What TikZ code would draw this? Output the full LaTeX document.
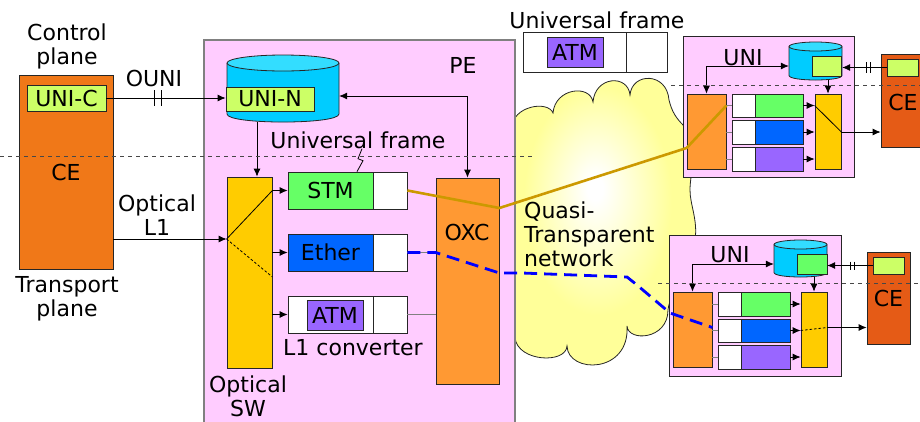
\documentclass[tikz,border=0pt]{standalone}
\usepackage{fontspec}
\setmainfont{DejaVu Sans}
\usetikzlibrary{arrows.meta,calc}
\definecolor{edge}{HTML}{262626}
\definecolor{pegray}{HTML}{808080}
\definecolor{pepink}{HTML}{FFCCFF}
\definecolor{celeft}{HTML}{F07818}
\definecolor{ceright}{HTML}{E55B16}
\definecolor{lime}{HTML}{CCFF66}
\definecolor{cylbody}{HTML}{00CCFF}
\definecolor{cyltop}{HTML}{33DDFF}
\definecolor{swyellow}{HTML}{FFCC00}
\definecolor{oxcorange}{HTML}{FF9933}
\definecolor{cgreen}{HTML}{66FF66}
\definecolor{cblue}{HTML}{0066FF}
\definecolor{cpurple}{HTML}{9966FF}
\definecolor{gold}{HTML}{CC9900}
\definecolor{dblue}{HTML}{0000FF}
\definecolor{cloudy}{HTML}{FFFF99}
\pgfdeclareradialshading{cloudsh}{\pgfpoint{-2bp}{6bp}}{color(0bp)=(white); color(2bp)=(white); color(19bp)=(cloudy); color(50bp)=(cloudy)}
\begin{document}
\begin{tikzpicture}[x=1pt,y=-1pt,
  font=\fontsize{22}{24}\selectfont,
  bx/.style={draw=edge, line width=0.8pt, inner sep=0pt},
  sz/.style 2 args={minimum width=#1pt, minimum height=#2pt},
  lbl/.style={inner sep=0pt},
  arr/.style={draw=black, line width=0.8pt, -{Latex[length=8pt,width=7pt]}},
  arrb/.style={draw=black, line width=0.8pt, {Latex[length=8pt,width=7pt]}-{Latex[length=8pt,width=7pt]}},
  stub/.style={draw=pegray, line width=1pt},
  thin/.style={draw=black, line width=0.8pt},
  plane/.style={draw=edge!85, line width=0.7pt, dash pattern=on 4pt off 4pt},
]
\useasboundingbox (0,0) rectangle (920,421);
\clip (0,0) rectangle (920,421);

% cloud
\path[draw=edge, line width=0.8pt, shading=cloudsh]
 (512,128) .. controls (512,106) and (548,100) .. (553,113)
 .. controls (555,88) and (590,84) .. (593,102)
 .. controls (595,76) and (628,74) .. (630,95)
 .. controls (632,72) and (667,72) .. (669,100)
 .. controls (672,112) and (676,118) .. (684,126)
 .. controls (700,150) and (690,170) .. (690,190)
 .. controls (690,205) and (698,220) .. (695,240)
 .. controls (692,270) and (670,290) .. (668,310)
 .. controls (668,340) and (628,342) .. (627,326)
 .. controls (630,374) and (568,374) .. (567,346)
 .. controls (566,364) and (518,362) .. (515,338)
 .. controls (505,300) and (505,160) .. (512,128) -- cycle;

% left CE
\node[bx, fill=celeft, sz={94}{194}] (ceL) at (66,172) {CE};
\node[bx, fill=lime, sz={79}{26}] (uniC) at (66.5,98) {UNI-C};
\node[lbl, align=center] (cpl) at (67,46) {Control\\plane};
\node[lbl, align=center] (tpl) at (67,299) {Transport\\plane};
\node[lbl] (ouni) at (154,78) {OUNI};
\node[lbl, align=center] (ol1) at (157,215) {Optical\\L1};

% PE
\node[draw=pegray, line width=1.2pt, fill=pepink, sz={311}{400}] (pe) at (359.5,240) {};
\node[lbl] (pel) at (463,65) {PE};

% UNI-N cylinder
\fill[cylbody] (227,63) -- (227,114) .. controls (227,124.7) and (339,124.7) .. (339,114) -- (339,63) -- cycle;
\draw[draw=edge, line width=0.8pt] (227,63) -- (227,114) .. controls (227,124.7) and (339,124.7) .. (339,114) -- (339,63);
\filldraw[fill=cyltop, draw=edge, line width=0.8pt] (283,63) ellipse [x radius=56pt, y radius=8pt];
\node[inner sep=0pt, sz={112}{67}] (cylN) at (283,88.5) {};
\node[bx, fill=lime, sz={88}{24}] (uniN) at (270,99) {UNI-N};

% optical SW
\node[bx, fill=swyellow, sz={45}{191}] (osw) at (249.5,272.5) {};
\node[lbl, align=center] (oswl) at (248,396) {Optical\\SW};

% converters
\node[bx, fill=cgreen, sz={85}{37}] (stm) at (330.5,190.5) {STM};
\node[bx, fill=white, sz={34}{37}] (stmw) at (390,190.5) {};
\node[bx, fill=cblue, sz={85}{37}] (eth) at (330.5,252.5) {Ether};
\node[bx, fill=white, sz={34}{37}] (ethw) at (390,252.5) {};
\node[bx, fill=white, sz={85}{37}] (atmc) at (330.5,314.5) {};
\node[bx, fill=white, sz={34}{37}] (atmw) at (390,314.5) {};
\node[bx, fill=cpurple, sz={56}{30}] (atm) at (335,315) {ATM};
\node[lbl] (l1c) at (353,348) {L1 converter};
\node[lbl] (ufl) at (358,140) {Universal frame};

% OXC
\node[bx, fill=oxcorange, sz={63}{206}] (oxc) at (467.5,281) {};
\node[lbl] (oxcl) at (467,232) {OXC};

% PE connectors
\draw[arr] (uniC.east) -- (uniC.east -| uniN.west)
  coordinate[pos=0.43] (b1);
\draw[thin] ([xshift=-3.5pt,yshift=8pt]b1) -- ([xshift=-3.5pt,yshift=-8pt]b1);
\draw[thin] ([xshift=3.5pt,yshift=8pt]b1) -- ([xshift=3.5pt,yshift=-8pt]b1);
\draw[arr] ([xshift=7.5pt]osw.north |- cylN.south) -- ([xshift=7.5pt]osw.north);
\draw[arrb] (oxc.north) |- ($(cylN.east |- uniN.east)+(0,-3)$);
\coordinate (swin) at ($(osw.west)+(0,-33.5)$);
\draw[arr] (ceL.east |- swin) -- (swin);
\draw[thin] (swin) -- (osw.east |- stm.west);
\draw[thin, dash pattern=on 2.5pt off 2pt] (swin) -- ($(osw.east)+(0,4.5)$);
\draw[arr] (osw.east |- stm.west) -- (stm.west);
\draw[arr] (osw.east |- eth.west) -- (eth.west);
\draw[arr] (osw.east |- atmc.west) -- (atmc.west);
\draw[stub] (atmw.east) -- (oxc.west |- atmw.east);
\draw[stub] (ethw.east) -- (oxc.west |- ethw.east);
\draw[thin] ([xshift=4pt]ufl.south) -- ++(-4,10) -- ++(5,2) -- ([xshift=26.5pt]stm.north);

% universal frame (top)
\node[lbl] (uft) at (597,20) {Universal frame};
\node[bx, fill=white, sz={103}{40}] (uf) at (574.5,52) {};
\node[bx, fill=white, sz={41}{40}] (ufw) at (646.5,52) {};
\node[bx, fill=cpurple, sz={56}{30}] (ufatm) at (575,52) {ATM};

% upper right
\node[bx, fill=pepink, sz={171}{141}] (ur) at (768.5,106.5) {};
\node[bx, fill=oxcorange, sz={39}{75}] (urO) at (706.5,131.5) {};
\node[bx, fill=swyellow, sz={26}{75}] (urY) at (828,131.5) {};
\foreach \n/\y/\h/\c in {1/105.5/23/cgreen, 2/132/24/cblue, 3/159/24/cpurple} {
  \node[bx, fill=white, sz={23}{\h}] (urw\n) at (743.5,\y) {};
  \node[bx, fill=\c, sz={48}{\h}] (urc\n) at (779,\y) {};
  \draw[stub] (urO.east |- urw\n) -- (urw\n.west);
  \draw[arr] (urc\n.east) -- (urY.west |- urc\n);
}
\fill[cylbody] (789,46.5) -- (789,75.5) .. controls (789,81.5) and (842,81.5) .. (842,75.5) -- (842,46.5) -- cycle;
\draw[draw=edge, line width=0.8pt] (789,46.5) -- (789,75.5) .. controls (789,81.5) and (842,81.5) .. (842,75.5) -- (842,46.5);
\filldraw[fill=cyltop, draw=edge, line width=0.8pt] (815.5,46.5) ellipse [x radius=26.5pt, y radius=4.5pt];
\node[inner sep=0pt, sz={53}{38}] (urCyl) at (815.5,61) {};
\node[bx, fill=lime, sz={29}{20}] (urLime) at (826.5,66) {};
\node[lbl] (urUNI) at (743,58) {UNI};
\node[bx, fill=ceright, sz={54}{93}] (urCE) at (908,100.5) {};
\node[lbl] (urCEl) at (903,102) {CE};
\node[bx, fill=lime, sz={31}{17}] (urCElime) at (902.5,67.5) {};
\draw[arrb] (urCyl.west |- urLime) -| (urO.north);
\draw[arr] (urCyl.south -| urY.north) -- (urY.north);
\draw[arr] (urCElime.west) -- (urCElime.west -| urCyl.east) coordinate[pos=0.42] (b2);
\draw[thin] ([xshift=-2pt,yshift=5.5pt]b2) -- ([xshift=-2pt,yshift=-5.5pt]b2);
\draw[thin] ([xshift=2pt,yshift=5.5pt]b2) -- ([xshift=2pt,yshift=-5.5pt]b2);
\draw[thin] (urY.west |- urc1) -- (urY.east |- urc2);
\draw[arr] (urY.east |- urc2) -- (urCE.west |- urc2);

% lower right
\node[bx, fill=pepink, sz={172}{141}] (lr) at (755,305.5) {};
\node[bx, fill=oxcorange, sz={39}{75}] (lrO) at (692.5,329.5) {};
\node[bx, fill=swyellow, sz={26}{75}] (lrY) at (814,329.5) {};
\foreach \n/\y/\h/\c in {1/304/24/cgreen, 2/330.5/23/cblue, 3/357/24/cpurple} {
  \node[bx, fill=white, sz={23}{\h}] (lrw\n) at (729.5,\y) {};
  \node[bx, fill=\c, sz={49}{\h}] (lrc\n) at (765.5,\y) {};
  \draw[stub] (lrO.east |- lrw\n) -- (lrw\n.west);
  \draw[arr] (lrc\n.east) -- (lrY.west |- lrc\n);
}
\fill[cylbody] (774,244.5) -- (774,272.5) .. controls (774,278.5) and (827,278.5) .. (827,272.5) -- (827,244.5) -- cycle;
\draw[draw=edge, line width=0.8pt] (774,244.5) -- (774,272.5) .. controls (774,278.5) and (827,278.5) .. (827,272.5) -- (827,244.5);
\filldraw[fill=cyltop, draw=edge, line width=0.8pt] (800.5,244.5) ellipse [x radius=26.5pt, y radius=4.5pt];
\node[inner sep=0pt, sz={53}{37}] (lrCyl) at (800.5,258.5) {};
\node[bx, fill=cgreen, sz={30}{20}] (lrGreen) at (812,264) {};
\node[lbl] (lrUNI) at (730,255) {UNI};
\node[bx, fill=ceright, sz={43}{92}] (lrCE) at (888.5,298) {CE};
\node[bx, fill=lime, sz={31}{17}] (lrCElime) at (888.5,265.5) {};
\draw[arrb] (lrCyl.west |- lrGreen) -| (lrO.north);
\draw[arr] (lrCyl.south -| lrY.north) -- (lrY.north);
\draw[arr] (lrCElime.west) -- (lrCElime.west -| lrCyl.east) coordinate[pos=0.45] (b3);
\draw[thin] ([xshift=-1.8pt,yshift=4pt]b3) -- ([xshift=-1.8pt,yshift=-4pt]b3);
\draw[thin] ([xshift=1.8pt,yshift=4pt]b3) -- ([xshift=1.8pt,yshift=-4pt]b3);
\coordinate (lrout) at ($(lrY.east |- lrc2)+(0,-3)$);
\draw[thin, dash pattern=on 2.5pt off 2pt] (lrY.west |- lrc2) -- (lrout);
\draw[arr] (lrout) -- (lrCE.west |- lrout);

% cloud label
\node[lbl, align=left, anchor=west] (qtn) at (524,234) {Quasi-\\Transparent\\network};

% plane separators
\draw[plane] (0,156) -- (532,156);
\draw[plane] (671,85) -- (920,85);
\draw[plane] (658,283) -- (920,283);

% paths through network
\draw[gold, line width=2.6pt] (stmw.east) -- ($(oxc.east)+(0,-73)$) -- ($(urO.west)+(0,16.5)$) -- (urO.east |- urc1);
\draw[dblue, line width=2.8pt, dash pattern=on 13pt off 7pt]
  (ethw.east) -- (oxc.west |- ethw.east) -- ($(oxc.east)+(0,-8)$) -- (522,273) -- (627,277) -- (637,285) -- (670,313) -- ($(lrO.east |- lrc2)+(0,-3)$);
\end{tikzpicture}
\end{document}
